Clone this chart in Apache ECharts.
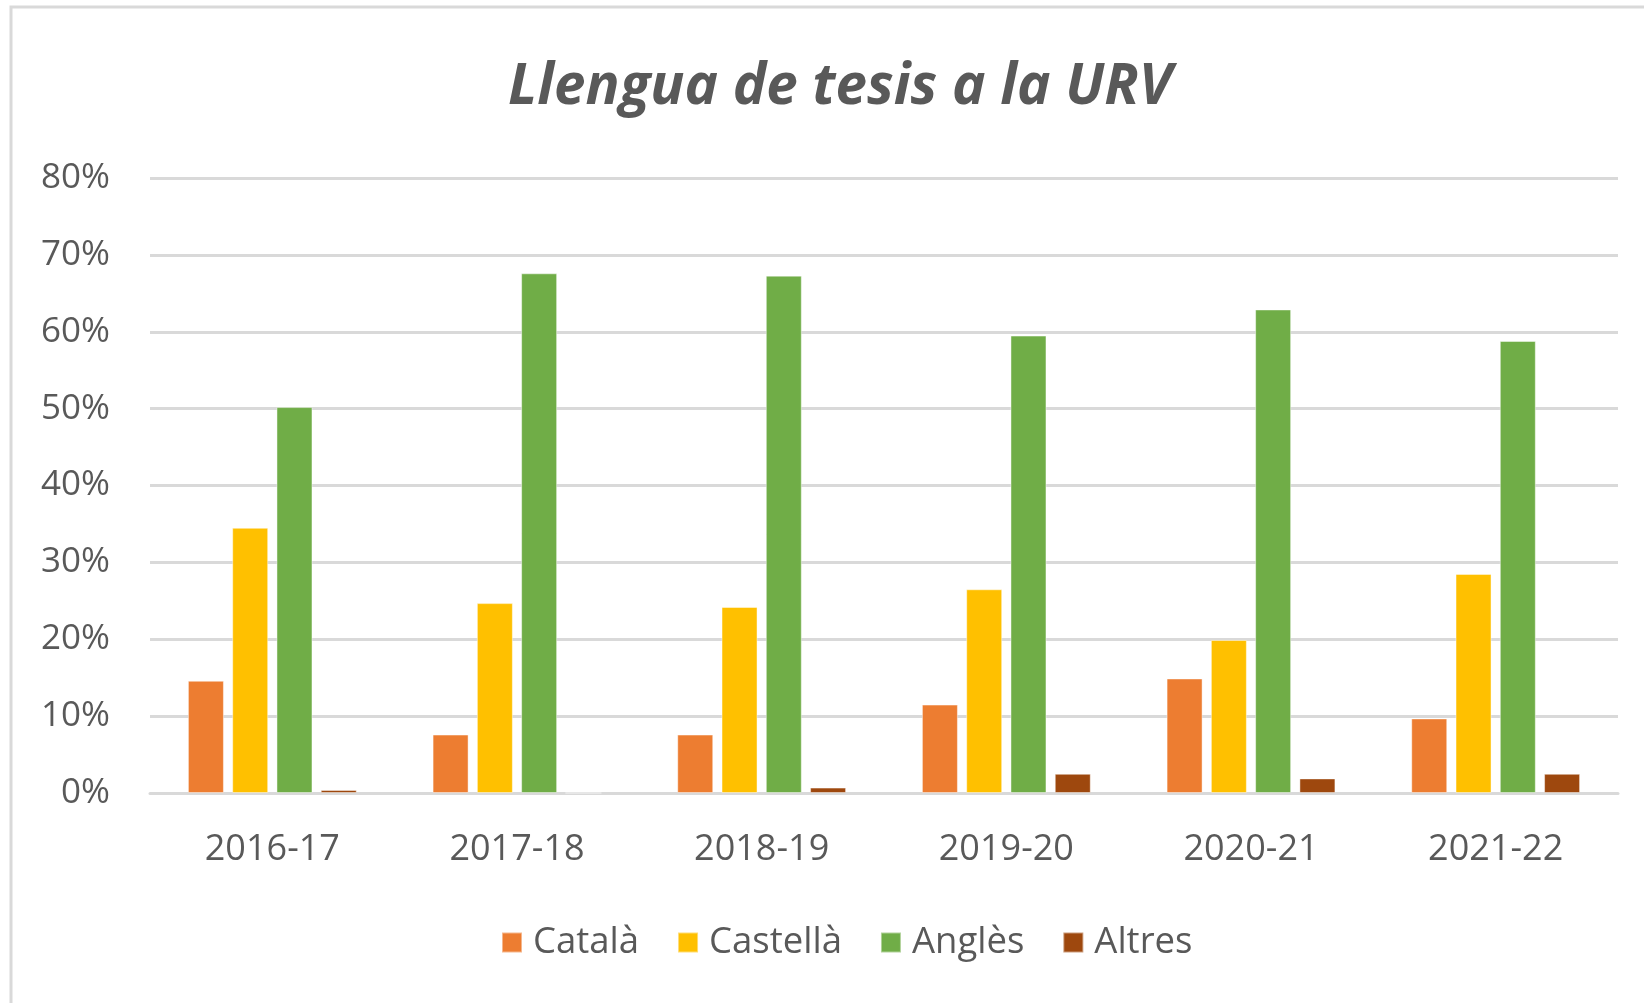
<!DOCTYPE html>
<html>
<head>
<meta charset="utf-8">
<title>Llengua de tesis a la URV</title>
<script src="https://cdn.jsdelivr.net/npm/echarts@6/dist/echarts.min.js"></script>
<style>
  html, body { margin: 0; padding: 0; background: #fff; }
  #chart { width: 1644px; height: 1003px; }
</style>
</head>
<body>
<div id="chart"></div>
<script>
// curs academic
const years = ['2016-17', '2017-18', '2018-19', '2019-20', '2020-21', '2021-22']
// % de tesis per llengua
const catala = [14.6, 7.6, 7.6, 11.5, 14.9, 9.7]
const castella = [34.5, 24.7, 24.2, 26.5, 19.9, 28.5]
const angles = [50.2, 67.6, 67.3, 59.5, 62.9, 58.8]
const altres = [0.4, 0, 0.7, 2.5, 1.9, 2.5]
const yTicks = ['0%', '10%', '20%', '30%', '40%', '50%', '60%', '70%', '80%']

const font = '"Open Sans", "Noto Sans", sans-serif'
const grey = '#595959'

function bar(name, data, color) {
  return {
    name: name,
    type: 'bar',
    data: data,
    barWidth: 36,
    barGap: '23%',
    itemStyle: {
      color: color,
      borderColor: 'rgba(255,255,255,0.45)',
      borderWidth: 1
    }
  }
}

const chart = echarts.init(document.getElementById('chart'))
chart.setOption({
  animation: false,
  backgroundColor: '#fff',
  graphic: [{
    type: 'rect',
    shape: { x: 11, y: 7, width: 1700, height: 1100 },
    style: { fill: 'none', stroke: '#d9d9d9', lineWidth: 3 },
    silent: true
  }],
  title: {
    text: 'Llengua de tesis a la URV',
    left: 835,
    textAlign: 'center',
    top: 54,
    textStyle: {
      fontFamily: font,
      fontSize: 56.5,
      fontWeight: 'bold',
      fontStyle: 'italic',
      color: grey
    }
  },
  legend: {
    top: 919,
    left: 496,
    itemWidth: 20,
    itemHeight: 20,
    itemGap: 38,
    icon: 'rect',
    textStyle: {
      fontFamily: font,
      fontSize: 36.5,
      color: grey,
      padding: [0, 0, 0, 6]
    },
    data: ['Català', 'Castellà', 'Anglès', 'Altres']
  },
  grid: {
    left: 150,
    right: 26,
    top: 178,
    bottom: 210,
    containLabel: false
  },
  xAxis: {
    type: 'category',
    data: years,
    axisLine: { lineStyle: { color: '#d9d9d9', width: 3 } },
    axisTick: { show: false },
    axisLabel: {
      margin: 39,
      fontFamily: font,
      fontSize: 36,
      color: grey
    }
  },
  yAxis: {
    type: 'value',
    min: 0,
    max: 80,
    interval: 10,
    axisLine: { show: false },
    axisTick: { show: false },
    splitLine: { lineStyle: { color: '#d9d9d9', width: 3 } },
    axisLabel: {
      margin: 40,
      fontFamily: font,
      fontSize: 35,
      color: grey,
      formatter: function (v) { return yTicks[Math.round(v / 10)] }
    }
  },
  series: [
    bar('Català', catala, '#ED7D31'),
    bar('Castellà', castella, '#FFC000'),
    bar('Anglès', angles, '#70AD47'),
    bar('Altres', altres, '#9E480E')
  ]
})
</script>
</body>
</html>
